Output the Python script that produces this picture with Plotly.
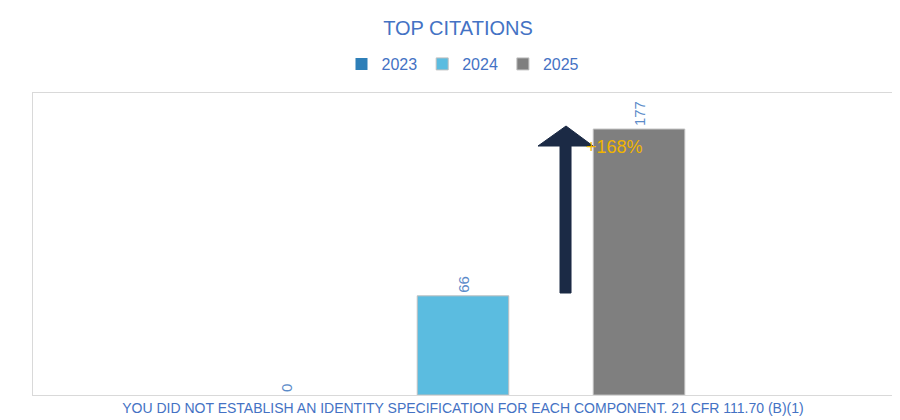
import plotly.graph_objects as go

category = ["YOU DID NOT ESTABLISH AN IDENTITY SPECIFICATION FOR EACH COMPONENT. 21 CFR 111.70 (B)(1)"]
years = ["2023", "2024", "2025"]
values = [0, 66, 177]
colors = ["#2E7FB8", "#5BBCE0", "#7F7F7F"]
change_label = "+168%"

fig = go.Figure()
for y, v, c in zip(years, values, colors):
    fig.add_trace(go.Bar(
        x=category, y=[v], name=y,
        marker=dict(color=c, line=dict(color="#BFBFBF", width=1 if v else 0)),
        text=[str(v)], textposition="outside", textangle=-90,
        textfont=dict(color="#5B8BC9", size=15), cliponaxis=False))

fig.add_annotation(x=(637 - 25) / 860, xref="paper", y=177, yref="y", text=change_label, showarrow=False,
                   yanchor="top", yshift=-6, font=dict(color="#F0B400", size=18))

def px(x): return (x - 25) / 860
def py(y): return (387 - y) / 302
pts = [(552, 285), (563, 285), (563, 138), (585, 138), (558, 118), (530, 138), (552, 138)]
path = "M " + " L ".join(f"{px(a):.4f},{py(b):.4f}" for a, b in pts) + " Z"
fig.add_shape(type="path", path=path, xref="paper", yref="paper",
              fillcolor="#1B2A45", line=dict(color="#1B2A45", width=1))

fig.update_layout(
    width=900, height=420, barmode="group", bargap=0.386, bargroupgap=0.48,
    paper_bgcolor="white", plot_bgcolor="white",
    margin=dict(l=25, r=15, t=85, b=33, autoexpand=False),
    font=dict(family="Liberation Sans, Arial", color="#4472C4"),
    title=dict(text="TOP CITATIONS", x=0.5, xanchor="center", y=1 - 20 / 420, yanchor="middle",
               yref="container", font=dict(size=20, color="#4472C4")),
    legend=dict(orientation="h", x=0.5, xanchor="center", y=1 - 56 / 420, yanchor="middle",
                yref="container", itemwidth=30, tracegroupgap=0,
                font=dict(size=16, color="#4472C4")),
    showlegend=True,
)
fig.update_xaxes(showline=True, linecolor="#D9D9D9", mirror=True, ticks="",
                 tickfont=dict(size=14, color="#4472C4"))
fig.update_yaxes(range=[0, 201], showticklabels=False, showgrid=False, zeroline=False,
                 showline=True, linecolor="#D9D9D9")
fig.write_html("out.html")
